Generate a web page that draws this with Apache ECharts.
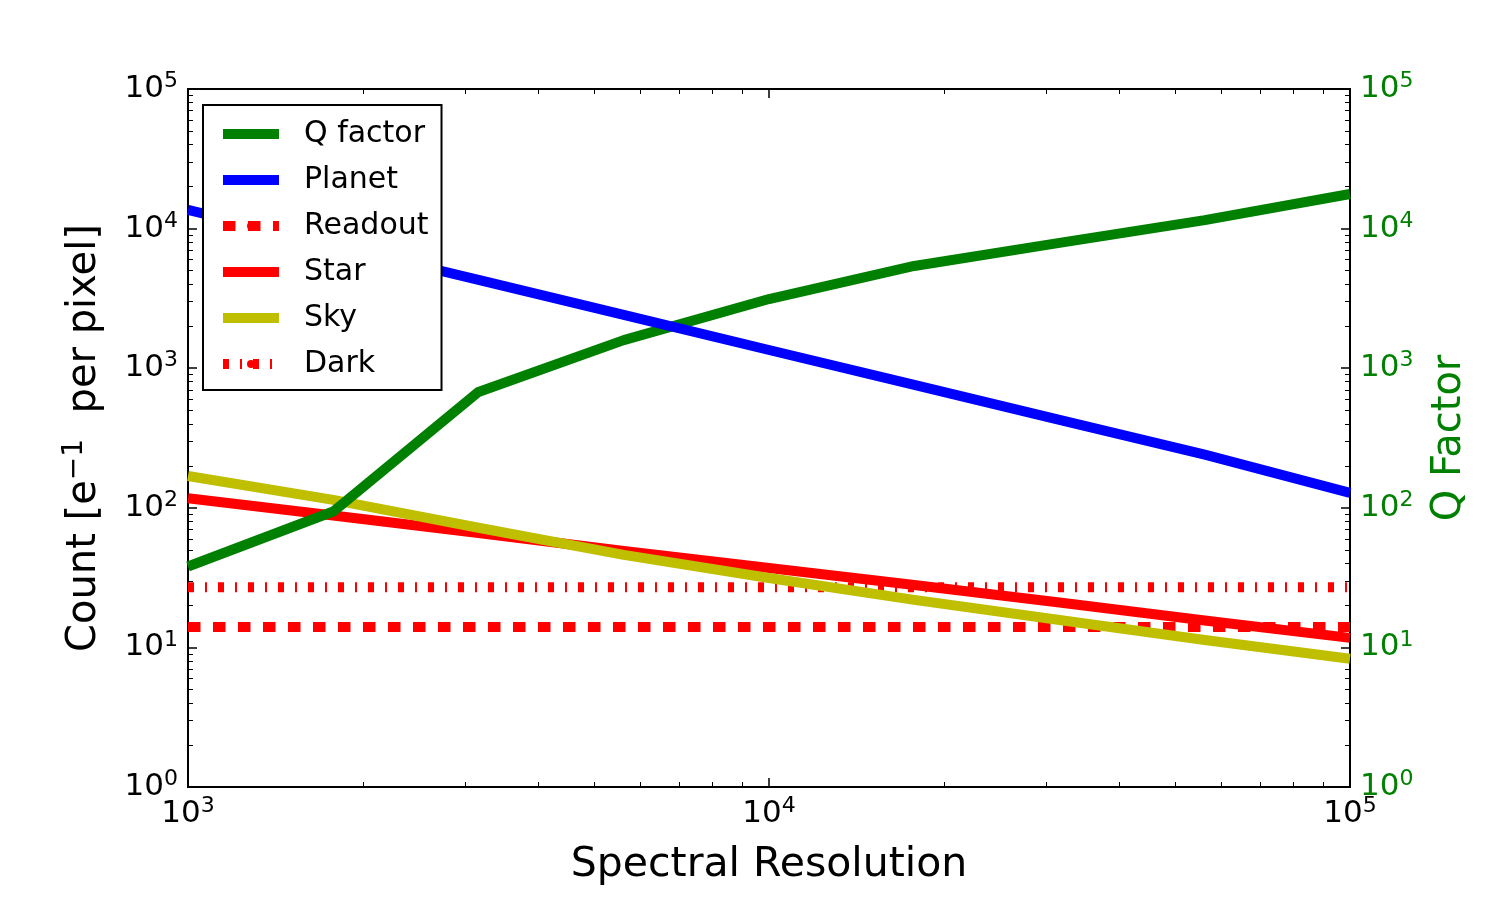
<!DOCTYPE html>
<html>
<head>
<meta charset="utf-8">
<script src="https://cdn.jsdelivr.net/npm/echarts@6/dist/echarts.min.js"></script>
<style>
html, body { margin: 0; padding: 0; background: #fff; }
#chart { width: 1500px; height: 900px; }
</style>
</head>
<body>
<div id="chart"></div>
<script>
// values
const resolution = [1000, 1778, 3162, 5623, 10000, 17783, 31623, 56234, 100000];
const qFactor = [38, 94, 676, 1590, 3130, 5400, 7900, 11500, 17700];
const planet = [13600, 7630, 4290, 2410, 1350, 760, 427, 240, 128];
const star = [117, 88, 66, 49, 37, 28, 21, 15.6, 11.7];
const sky = [169, 114, 72, 46, 31.4, 21.9, 15.7, 11.3, 8.3];
const readoutLevel = [14, 14];
const darkLevel = [27, 27];
const levelRange = [1000, 100000];

const FONT = 'DejaVu Sans';
const GREEN = '#008000';

function pairs(xs, ys) {
    return xs.map((x, i) => [x, ys[i]]);
}

function powLabel(value) {
    return '{b|10}{s|' + Math.round(Math.log10(value)) + '}';
}

function labelRich(color) {
    return {
        b: { fontFamily: FONT, fontSize: 31, color: color },
        s: { fontFamily: FONT, fontSize: 22, color: color, padding: [0, 0, 15, 0] }
    };
}

function logAxis(extra) {
    const base = {
        type: 'log',
        logBase: 10,
        axisLine: { show: true, onZero: false, lineStyle: { color: '#000', width: 2 } },
        axisTick: { show: true, inside: true, length: 9, lineStyle: { color: '#000', width: 1.5 } },
        minorTick: { show: true, splitNumber: 9, length: 5, lineStyle: { color: '#000', width: 1 } },
        splitLine: { show: false },
        minorSplitLine: { show: false },
        axisLabel: { show: false }
    };
    return Object.assign(base, extra);
}

function lineSeries(name, data, color, yIndex, dash) {
    return {
        name: name,
        type: 'line',
        data: data,
        yAxisIndex: yIndex,
        symbol: 'none',
        showSymbol: false,
        animation: false,
        lineStyle: { color: color, width: 10, type: dash || 'solid', cap: 'butt', join: 'round' },
        itemStyle: { color: color },
        emphasis: { disabled: true }
    };
}

const chart = echarts.init(document.getElementById('chart'), null, { renderer: 'canvas' });

chart.setOption({
    backgroundColor: '#fff',
    animation: false,
    grid: {
        left: 188, right: 150, top: 89, bottom: 113,
        show: true, borderColor: '#000', borderWidth: 2, backgroundColor: 'transparent'
    },
    legend: {
        left: 203, top: 105,
        orient: 'vertical',
        data: ['Q factor', 'Planet', 'Readout', 'Star', 'Sky', 'Dark'],
        backgroundColor: '#fff',
        borderColor: '#000',
        borderWidth: 2,
        borderRadius: 0,
        padding: [11, 13, 8, 15],
        itemWidth: 56,
        itemHeight: 10,
        itemGap: 10,
        lineStyle: { width: 10 },
        textStyle: { fontFamily: FONT, fontSize: 30, color: '#000', lineHeight: 36, padding: [0, 0, 0, 20] },
        selectedMode: false
    },
    xAxis: [
        logAxis({
            position: 'bottom', min: 1000, max: 100000,
            name: 'Spectral Resolution', nameLocation: 'middle', nameGap: 58,
            nameTextStyle: { fontFamily: FONT, fontSize: 41, color: '#000' },
            axisLabel: { show: true, margin: 8, formatter: powLabel, rich: labelRich('#000') }
        }),
        logAxis({ position: 'top', min: 1000, max: 100000 })
    ],
    yAxis: [
        logAxis({
            position: 'left', min: 1, max: 100000,
            name: '{a|Count [e}{sup|\u22121}{a|  per pixel]}',
            nameLocation: 'middle', nameGap: 79, nameRotate: 90,
            nameTextStyle: {
                rich: {
                    a: { fontFamily: FONT, fontSize: 40, color: '#000' },
                    sup: { fontFamily: FONT, fontSize: 28, color: '#000', padding: [0, 0, 20, 0] }
                }
            },
            axisLabel: { show: true, margin: 10, formatter: powLabel, rich: labelRich('#000') }
        }),
        logAxis({
            position: 'right', min: 1, max: 100000,
            name: 'Q Factor', nameLocation: 'middle', nameGap: 80, nameRotate: 90,
            nameTextStyle: { fontFamily: FONT, fontSize: 40, color: GREEN },
            axisLabel: { show: true, margin: 10, formatter: powLabel, rich: labelRich(GREEN) }
        })
    ],
    series: [
        lineSeries('Readout', pairs(levelRange, readoutLevel), '#ff0000', 0, [12.5, 12.5]),
        lineSeries('Dark', pairs(levelRange, darkLevel), '#ff0000', 0, [6, 11, 2, 11]),
        lineSeries('Star', pairs(resolution, star), '#ff0000', 0),
        lineSeries('Sky', pairs(resolution, sky), '#bfbf00', 0),
        lineSeries('Q factor', pairs(resolution, qFactor), GREEN, 1),
        lineSeries('Planet', pairs(resolution, planet), '#0000ff', 0)
    ]
});
</script>
</body>
</html>
